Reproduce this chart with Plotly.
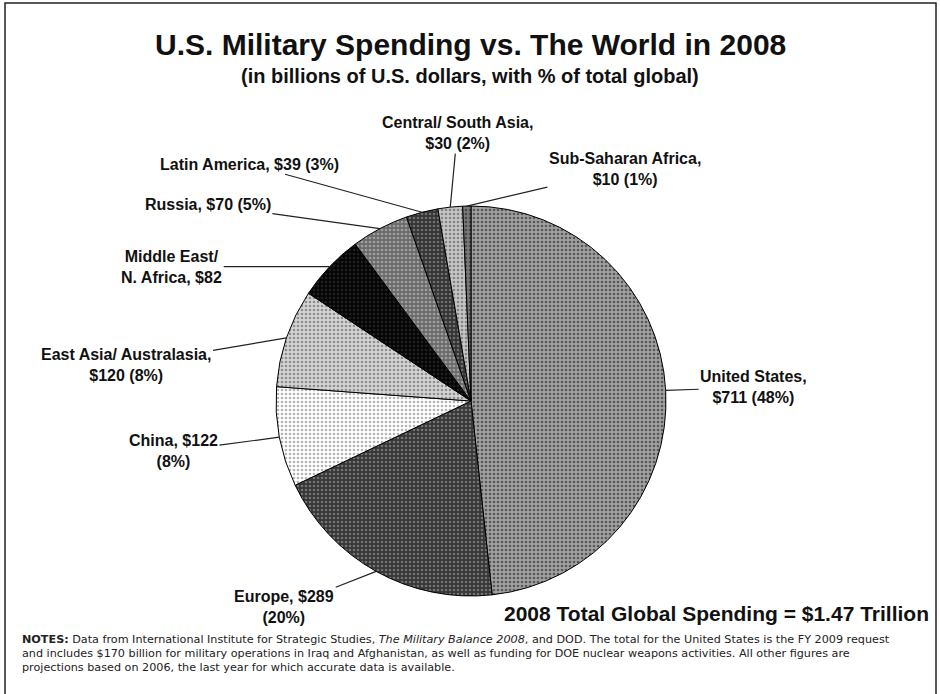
import math
import plotly.graph_objects as go

# ---- data ----
regions = ["United States", "Europe", "China", "East Asia/ Australasia",
           "Middle East/ N. Africa", "Russia", "Latin America",
           "Central/ South Asia", "Sub-Saharan Africa"]
spending = [711, 289, 122, 120, 82, 70, 39, 30, 10]
label_texts = [
    "United States,<br>$711 (48%)",
    "Europe, $289<br>(20%)",
    "China, $122<br>(8%)",
    "East Asia/ Australasia,<br>$120 (8%)",
    "Middle East/<br>N. Africa, $82",
    "Russia, $70 (5%)",
    "Latin America, $39 (3%)",
    "Central/ South Asia,<br>$30 (2%)",
    "Sub-Saharan Africa,<br>$10 (1%)",
]
title_text = "U.S. Military Spending vs. The World in 2008"
subtitle_text = "(in billions of U.S. dollars, with % of total global)"
total_text = "2008 Total Global Spending = $1.47 Trillion"
notes_lines = [
    "<b>NOTES:</b> Data from International Institute for Strategic Studies, "
    "<i>The Military Balance 2008</i>, and DOD. The total for the United States is the FY 2009 request",
    "and includes $170 billion for military operations in Iraq and Afghanistan, as well as funding for "
    "DOE nuclear weapons activities. All other figures are",
    "projections based on 2006, the last year for which accurate data is available.",
]

# ---- styles / layout ----
W, H = 940, 694
CX, CY, R = 471, 401, 195  # pie centre and radius in pixels

bg_colors = ["#a0a0a0", "#363636", "#ffffff", "#d4d4d4", "#050505",
             "#6a6a6a", "#343434", "#c6c6c6", "#7a7a7a"]
fg_colors = ["#585858", "#747474", "#b4b4b4", "#8e8e8e", "#202020",
             "#a0a0a0", "#6e6e6e", "#848484", "#4a4a4a"]
# label offsets (pixels) from the slice edge point
label_offsets = [(88, -3), (-92, 36), (-106, 14), (-160, 27), (-158, 0),
                 (-172, -24), (-173, -48), (7, -74), (158, -37)]

FONT = "Liberation Sans, Arial, Helvetica, sans-serif"
NOTE_FONT = "DejaVu Sans, Liberation Sans, sans-serif"

fig = go.Figure()
fig.add_trace(go.Pie(
    labels=regions,
    values=spending,
    sort=False,
    direction="clockwise",
    rotation=0,
    textinfo="none",
    hoverinfo="label+value+percent",
    marker=dict(
        colors=bg_colors,
        line=dict(color="#000000", width=1),
        pattern=dict(shape=".", fgcolor=fg_colors, bgcolor=bg_colors,
                     size=4, solidity=0.35, fillmode="replace"),
    ),
    domain=dict(x=[(CX - R) / W, (CX + R) / W],
                y=[1 - (CY + R) / H, 1 - (CY - R) / H]),
    showlegend=False,
))

total = sum(spending)
annotations = []
cum = 0
for val, txt, (ox, oy) in zip(spending, label_texts, label_offsets):
    mid = (cum + val / 2) / total * 2 * math.pi
    cum += val
    px = CX + R * math.sin(mid)
    py = CY - R * math.cos(mid)
    annotations.append(dict(
        x=px / W, y=1 - py / H, xref="paper", yref="paper",
        text="<b>%s</b>" % txt, align="center",
        showarrow=True, arrowhead=0, arrowwidth=1.2, arrowcolor="#222",
        ax=ox, ay=oy, standoff=0,
        font=dict(family=FONT, size=16, color="#111"),
    ))

annotations += [
    dict(x=470 / W, y=1 - 44 / H, xref="paper", yref="paper", showarrow=False,
         xanchor="center", yanchor="middle",
         text="<b>%s</b>" % title_text, font=dict(family=FONT, size=30, color="#111")),
    dict(x=470 / W, y=1 - 76 / H, xref="paper", yref="paper", showarrow=False,
         xanchor="center", yanchor="middle",
         text="<b>%s</b>" % subtitle_text, font=dict(family=FONT, size=20, color="#111")),
    dict(x=716 / W, y=1 - 613 / H, xref="paper", yref="paper", showarrow=False,
         xanchor="center", yanchor="middle", text="<b>%s</b>" % total_text,
         font=dict(family=FONT, size=21, color="#111")),
]
for i, line in enumerate(notes_lines):
    annotations.append(dict(
        x=20 / W, y=1 - (639 + 14 * i) / H, xref="paper", yref="paper",
        showarrow=False, xanchor="left", yanchor="middle", align="left",
        text=line, font=dict(family=NOTE_FONT, size=11.2, color="#222")))

fig.update_layout(
    width=W, height=H,
    margin=dict(l=0, r=0, t=0, b=0),
    paper_bgcolor="#ffffff",
    plot_bgcolor="#ffffff",
    annotations=annotations,
    shapes=[dict(type="rect", xref="paper", yref="paper",
                 x0=5 / W, x1=936 / W, y0=-0.02, y1=1 - 3 / H,
                 line=dict(color="#222", width=1.5))],
)

fig.write_html("out.html", post_script="document.body.style.margin='0';",
               config={"displayModeBar": False})
